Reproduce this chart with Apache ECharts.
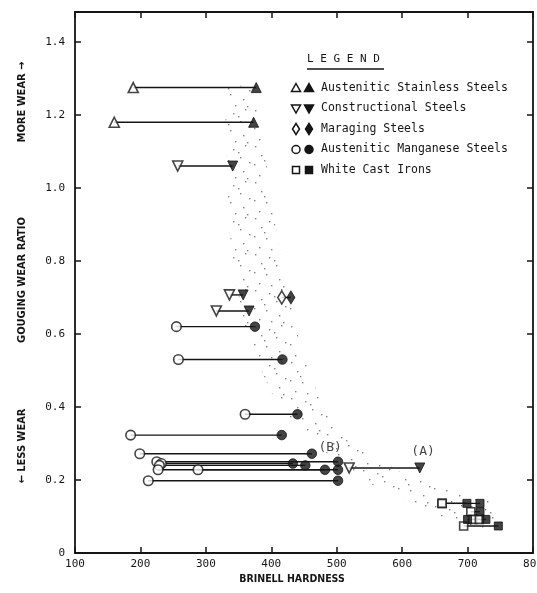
<!DOCTYPE html>
<html><head><meta charset="utf-8">
<script src="https://cdn.jsdelivr.net/npm/echarts@6/dist/echarts.min.js"></script>
<style>html,body{margin:0;padding:0;background:#fff;overflow:hidden}#c{width:537px;height:593px}</style>
</head><body><div id="c"></div>
<script>
// Each entry: [annealed hardness (open symbol), work-hardened hardness (filled symbol), gouging wear ratio]
const austeniticStainless = [[189,377,1.275],[160,373,1.18]];
const constructional = [[257,341,1.06],[336,357,0.707],[316,366,0.663],[519,627,0.233]];
const maraging = [[416,430,0.70]];
const austeniticManganese = [[255,375,0.62],[258,417,0.53],[360,440,0.38],[185,416,0.323],[199,462,0.272],
  [225,502,0.25],[232,433,0.245],[229,452,0.24],[227,502,0.228],[288,482,0.228],[212,502,0.198]];
const whiteCastIrons = [[661,699,0.136],[661,719,0.136],[705,719,0.113],[708,728,0.092],[718,700,0.092],[694,747,0.074]];
// Stippled scatter band (hardness, ratio) outline
const scatterBand = [[330,1.28],[368,1.28],[388,1.15],[398,0.97],[415,0.82],[430,0.69],[445,0.56],[468,0.45],
  [478,0.40],[520,0.30],[600,0.22],[680,0.17],[740,0.14],[760,0.08],[740,0.06],[690,0.07],[640,0.12],
  [560,0.18],[480,0.28],[430,0.36],[400,0.44],[380,0.52],[360,0.62],[345,0.75],[335,0.9],[333,1.05],[330,1.15]];
const annotations = [['(B)',490,0.288],['(A)',632,0.277]];
const xTicks = [100,200,300,400,500,600,700,800];
const yTicks = [0,0.2,0.4,0.6,0.8,1.0,1.2,1.4];
const legendItems = [
  ['Austenitic Stainless Steels','tri'],
  ['Constructional Steels','itri'],
  ['Maraging Steels','diamond'],
  ['Austenitic Manganese Steels','circle'],
  ['White Cast Irons','square']
];

const INK = '#151515';
const MONO = '"DejaVu Sans Mono", monospace';
const COND = '"DejaVu Sans Condensed", "DejaVu Sans", sans-serif';

function stipple(){
  const c = document.createElement('canvas'); c.width = 36; c.height = 36;
  const g = c.getContext('2d'); g.fillStyle = 'rgba(90,90,90,0.75)';
  [[3,2],[17,5],[29,1],[9,11],[24,13],[33,18],[2,20],[14,22],[27,27],[7,31],[19,33],[31,34],[12,16],[22,8]]
    .forEach(p => g.fillRect(p[0], p[1], 1.4, 1.4));
  return c;
}

const symDefs = {
  tri: {symbol:'triangle', size:10, rotate:0},
  itri: {symbol:'triangle', size:10, rotate:180},
  diamond: {symbol:'diamond', size:[8,13], rotate:0},
  circle: {symbol:'circle', size:9.5, rotate:0},
  square: {symbol:'rect', size:8, rotate:0}
};

function segSeries(data){
  return {type:'custom', data: data.map(d => [d[0], d[1], d[2]]), z:2, silent:true,
    renderItem: (params, api) => {
      const a = api.coord([api.value(0), api.value(2)]);
      const b = api.coord([api.value(1), api.value(2)]);
      return {type:'line', shape:{x1:a[0], y1:a[1], x2:b[0], y2:b[1]}, style:{stroke:INK, lineWidth:1.4}};
    }};
}
function ptSeries(data, key, filled, idx){
  const s = symDefs[key];
  return {type:'scatter', data: data.map(d => [d[idx], d[2]]), symbol:s.symbol, symbolSize:s.size,
    symbolRotate:s.rotate, z: filled ? 4 : 3, silent:true,
    itemStyle: filled ? {color:INK, borderColor:INK, borderWidth:1} : {color:'#fff', borderColor:INK, borderWidth:1.6}};
}

const groups = [[austeniticStainless,'tri'],[constructional,'itri'],[maraging,'diamond'],[austeniticManganese,'circle'],[whiteCastIrons,'square']];
const series = [{
  type:'custom', data:[0], z:1, silent:true,
  renderItem: (params, api) => ({type:'polygon', shape:{points: scatterBand.map(p => api.coord(p))},
    style:{fill:{image: stipple(), repeat:'repeat'}, stroke:null}})
}];
groups.forEach(([d,k]) => { series.push(segSeries(d)); series.push(ptSeries(d,k,false,0)); series.push(ptSeries(d,k,true,1)); });
series.push({type:'scatter', data: annotations.map(a => [a[1], a[2], a[0]]), symbolSize:1, silent:true,
  itemStyle:{color:'rgba(0,0,0,0)'}, z:5,
  label:{show:true, position:'inside', formatter: p => p.data[2], color:INK, fontFamily:MONO, fontSize:13}});

// legend graphics
function legendSym(key, cx, cy, filled){
  const fill = filled ? INK : '#fff';
  const style = {fill, stroke:INK, lineWidth:1.5};
  if (key === 'tri') return {type:'polygon', shape:{points:[[cx,cy-4.5],[cx+4.5,cy+3.5],[cx-4.5,cy+3.5]]}, style};
  if (key === 'itri') return {type:'polygon', shape:{points:[[cx-4.5,cy-3.5],[cx+4.5,cy-3.5],[cx,cy+4.5]]}, style};
  if (key === 'diamond') return {type:'polygon', shape:{points:[[cx,cy-5.5],[cx+3.5,cy],[cx,cy+5.5],[cx-3.5,cy]]}, style};
  if (key === 'circle') return {type:'circle', shape:{cx, cy, r:4}, style};
  return {type:'rect', shape:{x:cx-3.5, y:cy-3.5, width:7, height:7}, style};
}
const graphic = [];
graphic.push({type:'text', left:307, top:54, style:{text:'L E G E N D', font:'11px ' + MONO, fill:INK}});
graphic.push({type:'line', shape:{x1:307, y1:69, x2:384, y2:69}, style:{stroke:INK, lineWidth:1.6}});
legendItems.forEach((it, i) => {
  const cy = 88 + i * 20.5;
  graphic.push(legendSym(it[1], 296, cy, false));
  graphic.push(legendSym(it[1], 309, cy, true));
  graphic.push({type:'text', x:321, y:cy, style:{text:it[0], font:'11.5px ' + MONO, fill:INK, textVerticalAlign:'middle'}});
});
graphic.push({type:'text', x:22, y:280, rotation:Math.PI/2,
  style:{text:'GOUGING WEAR RATIO', font:'bold 11px ' + COND, fill:INK, textAlign:'center', textVerticalAlign:'middle'}});
graphic.push({type:'text', x:22, y:102, rotation:Math.PI/2,
  style:{text:'MORE WEAR \u2192', font:'bold 11px ' + COND, fill:INK, textAlign:'center', textVerticalAlign:'middle'}});
graphic.push({type:'text', x:22, y:446, rotation:Math.PI/2,
  style:{text:'\u2190 LESS WEAR', font:'bold 11px ' + COND, fill:INK, textAlign:'center', textVerticalAlign:'middle'}});
graphic.push({type:'text', x:292, y:579,
  style:{text:'BRINELL HARDNESS', font:'bold 10.5px ' + COND, fill:INK, textAlign:'center', textVerticalAlign:'middle'}});

const axisLine = {show:true, onZero:false, lineStyle:{color:INK, width:1.8}};
const axisTick = {show:true, inside:true, length:6, lineStyle:{color:INK, width:1.5}};
const isTick = (v, arr) => arr.some(t => Math.abs(t - v) < 1e-6);

const option = {
  animation:false,
  backgroundColor:'#fff',
  grid:{left:75, right:4, top:12, bottom:40, containLabel:false, outerBoundsMode:'none'},
  xAxis:[
    {type:'value', min:100, max:800, interval:100, position:'bottom', axisLine, axisTick, splitLine:{show:false},
     axisLabel:{color:INK, fontFamily:MONO, fontSize:11, margin:6, formatter: v => isTick(v, xTicks) ? String(v) : ''}},
    {type:'value', min:100, max:800, interval:100, position:'top', axisLine, axisTick, splitLine:{show:false}, axisLabel:{show:false}}
  ],
  yAxis:[
    {type:'value', min:0, max:1.482, interval:0.2, position:'left', axisLine, axisTick, splitLine:{show:false},
     axisLabel:{color:INK, fontFamily:MONO, fontSize:11, margin:10, showMaxLabel:false,
       formatter: v => isTick(v, yTicks) ? (v === 0 ? '0' : v.toFixed(1)) : ''}},
    {type:'value', min:0, max:1.482, interval:0.2, position:'right', axisLine, axisTick, splitLine:{show:false}, axisLabel:{show:false}}
  ],
  graphic,
  series
};
const chart = echarts.init(document.getElementById('c'));
chart.setOption(option);
</script></body></html>
